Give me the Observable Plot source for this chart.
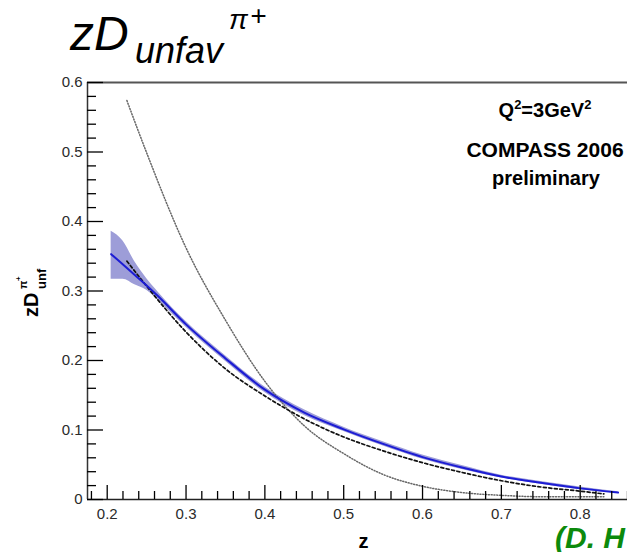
<!DOCTYPE html>
<html><head><meta charset="utf-8">
<script src="https://cdn.jsdelivr.net/npm/d3@7"></script>
<script src="https://cdn.jsdelivr.net/npm/@observablehq/plot@0.6"></script>
<style>
html,body{margin:0;padding:0;background:#fff;overflow:hidden}
#chart{position:relative;width:627px;height:552px}
</style></head><body><div id="chart"></div>
<script>
// Fit (solid blue) with uncertainty band
const blueZ   = [0.205,0.22,0.235,0.25,0.265,0.30,0.35,0.40,0.45,0.50,0.55,0.60,0.65,0.70,0.75,0.80,0.848];
const blueVal = [0.353,0.338,0.323,0.308,0.292,0.252,0.203,0.158,0.125,0.101,0.080,0.061,0.046,0.033,0.024,0.016,0.010];
const bandLo  = [0.317,0.317,0.309,0.301,0.286,0.248,0.199,0.154,0.121,0.098,0.077,0.058,0.043,0.031,0.022,0.014,0.009];
const bandHi  = [0.386,0.372,0.342,0.318,0.298,0.256,0.207,0.162,0.129,0.104,0.083,0.064,0.049,0.035,0.026,0.018,0.011];
// Dashed curve
const dashZ   = [0.225,0.25,0.30,0.35,0.40,0.45,0.50,0.55,0.60,0.65,0.70,0.75,0.80,0.83];
const dashVal = [0.343,0.307,0.241,0.188,0.149,0.116,0.090,0.070,0.053,0.039,0.027,0.018,0.012,0.008];
// Dotted curve
const dotZ    = [0.225,0.25,0.30,0.35,0.40,0.45,0.50,0.55,0.60,0.65,0.70,0.75,0.80,0.83];
const dotVal  = [0.574,0.499,0.362,0.258,0.170,0.106,0.066,0.036,0.019,0.010,0.006,0.004,0.004,0.004];
// Ticks
const yTickValues = [0,0.1,0.2,0.3,0.4,0.5,0.6];
const yTickLabels = ["0","0.1","0.2","0.3","0.4","0.5","0.6"];
const xTickValues = [0.2,0.3,0.4,0.5,0.6,0.7,0.8];
const xTickLabels = ["0.2","0.3","0.4","0.5","0.6","0.7","0.8"];
const yMinorTicks = [0.02,0.04,0.06,0.08,0.12,0.14,0.16,0.18,0.22,0.24,0.26,0.28,0.32,0.34,0.36,0.38,0.42,0.44,0.46,0.48,0.52,0.54,0.56,0.58];
const xMinorTicks = [0.18,0.22,0.24,0.26,0.28,0.32,0.34,0.36,0.38,0.42,0.44,0.46,0.48,0.52,0.54,0.56,0.58,0.62,0.64,0.66,0.68,0.72,0.74,0.76,0.78,0.82,0.84,0.86];
const xDomain = [0.175, 0.86];
const yDomain = [0, 0.6];

const bandRows = blueZ.map((z,i)=>({z, lo: bandLo[i], hi: bandHi[i]}));
const blueRows = blueZ.map((z,i)=>({z, v: blueVal[i]}));
const dashRows = dashZ.map((z,i)=>({z, v: dashVal[i]}));
const dotRows  = dotZ.map((z,i)=>({z, v: dotVal[i]}));
const tickCol = "#000";

const W = 627, H = 552, ML = 87, MR = 0, MT = 82, MB = 53;
const frameW = W - ML - MR, frameH = H - MT - MB;

const plot = Plot.plot({
  width: W, height: H,
  marginLeft: ML, marginRight: MR, marginTop: MT, marginBottom: MB,
  x: {domain: xDomain},
  y: {domain: yDomain},
  style: {fontFamily: "'Liberation Sans', Arial, sans-serif", fontSize: "15px", color: "#2a2a2a", background: "white"},
  marks: [
    Plot.areaY(bandRows, {x: "z", y1: "lo", y2: "hi", fill: "#9d9dd8", curve: "monotone-x"}),
    Plot.line(dotRows, {x: "z", y: "v", stroke: "#666", strokeWidth: 1.5, strokeDasharray: "1,1.8", curve: "monotone-x"}),
    Plot.line(dashRows, {x: "z", y: "v", stroke: "#111", strokeWidth: 1.7, strokeDasharray: "3,2.5", curve: "monotone-x"}),
    Plot.line(blueRows, {x: "z", y: "v", stroke: "#1c1cd4", strokeWidth: 2, curve: "monotone-x"}),
    Plot.ruleY([yDomain[1]], {stroke: "#555", strokeWidth: 2}),
    Plot.ruleY([0], {stroke: "#222", strokeWidth: 1.5}),
    Plot.ruleX([xDomain[0]], {stroke: "#333", strokeWidth: 1.5}),
    // short inward tick marks (length set by insets from the frame)
    Plot.tickY(yMinorTicks, {y: d => d, insetRight: frameW - 9, stroke: tickCol, strokeWidth: 1.3}),
    Plot.tickY(yTickValues, {y: d => d, insetRight: frameW - 16, stroke: tickCol, strokeWidth: 1.3}),
    Plot.tickX(xMinorTicks, {x: d => d, insetTop: frameH - 8, stroke: tickCol, strokeWidth: 1.3}),
    Plot.tickX(xTickValues, {x: d => d, insetTop: frameH - 14, stroke: tickCol, strokeWidth: 1.3}),
    Plot.axisY(yTickValues, {tickSize: 0, tickPadding: 5, tickFormat: (d,i) => yTickLabels[i], label: null}),
    Plot.axisX(xTickValues, {tickSize: 0, tickPadding: 9, tickFormat: (d,i) => xTickLabels[i], label: null})
  ]
});
document.getElementById("chart").appendChild(plot);

const s = d3.select(plot);
const ff = "'Liberation Sans', Arial, sans-serif";
function txt(x, y, str, opts = {}) {
  const t = s.append("text").attr("x", x).attr("y", y).attr("font-family", ff)
    .attr("font-size", opts.size || 16).attr("fill", opts.fill || "#000")
    .attr("text-anchor", opts.anchor || "start");
  if (opts.weight) t.attr("font-weight", opts.weight);
  if (opts.style) t.attr("font-style", opts.style);
  if (opts.transform) t.attr("transform", opts.transform).attr("x", 0).attr("y", 0);
  t.text(str);
  return t;
}
// Title
txt(70, 50, "zD", {size: 48, style: "italic"});
txt(135, 63, "unfav", {size: 36, style: "italic"});
txt(229, 29, "π", {size: 28, style: "italic"});
txt(250, 25, "+", {size: 28, style: "italic"});

// Y axis label (rotated)
txt(0, 0, "zD", {size: 20, weight: "bold", transform: "translate(38,317) rotate(-90)"});
txt(0, 0, "unf", {size: 13, weight: "bold", transform: "translate(46,289) rotate(-90)"});
txt(0, 0, "π", {size: 11, weight: "bold", transform: "translate(27,289) rotate(-90)"});
txt(0, 0, "+", {size: 8, weight: "bold", transform: "translate(21,281) rotate(-90)"});

// X axis label
txt(363.5, 548, "z", {size: 20, weight: "bold", anchor: "middle"});

// Annotations
const q = s.append("text").attr("x", 545).attr("y", 117).attr("font-family", ff)
  .attr("font-size", 20).attr("font-weight", "bold").attr("text-anchor", "middle").attr("fill", "#000");
q.append("tspan").text("Q");
q.append("tspan").attr("font-size", 13).attr("dy", -8).text("2");
q.append("tspan").attr("dy", 8).text("=3GeV");
q.append("tspan").attr("font-size", 13).attr("dy", -8).text("2");
txt(545, 157, "COMPASS 2006", {size: 21, weight: "bold", anchor: "middle"});
txt(546, 185, "preliminary", {size: 20, weight: "bold", anchor: "middle"});

// Credit (cropped at right edge, as in the reference)
txt(555, 548, "(D. H", {size: 30, weight: "bold", style: "italic", fill: "#0c8a0c"});
</script>
</body></html>
